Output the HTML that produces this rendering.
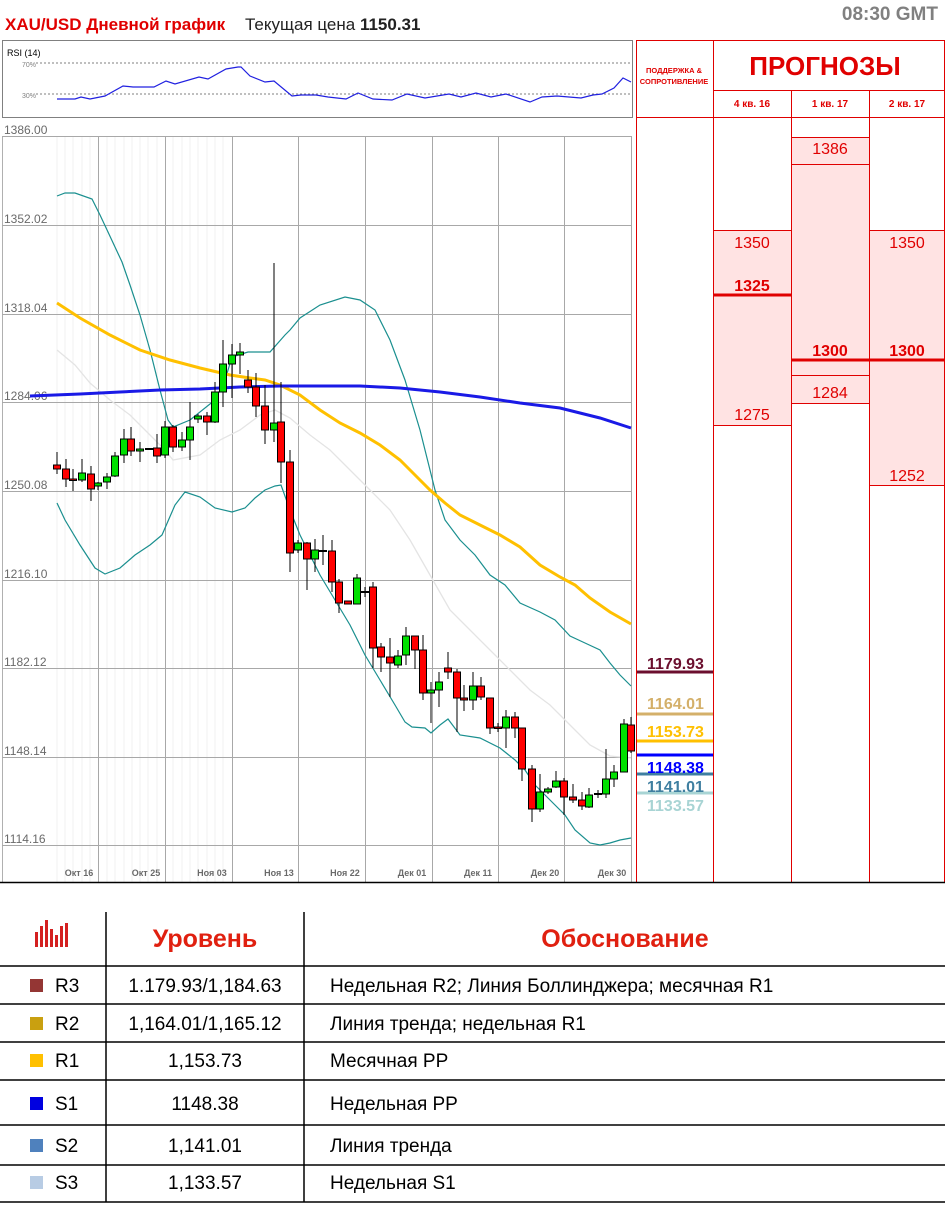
<!DOCTYPE html>
<html><head><meta charset="utf-8">
<style>
body{margin:0;background:#fff;width:945px;height:1204px;overflow:hidden;font-family:"Liberation Sans",sans-serif}
svg text{font-family:"Liberation Sans","DejaVu Sans",sans-serif}
</style></head><body>
<svg width="945" height="1204" viewBox="0 0 945 1204" xmlns="http://www.w3.org/2000/svg">
<!-- header -->
<text x="5" y="30" font-size="17" font-weight="bold" fill="#e00000">XAU/USD Дневной график</text>
<text x="245" y="30" font-size="17" fill="#222">Текущая цена <tspan font-weight="bold">1150.31</tspan></text>
<text x="938" y="20" font-size="19" font-weight="bold" fill="#808080" text-anchor="end">08:30 GMT</text>

<!-- RSI -->
<rect x="2.5" y="40.5" width="630" height="77" fill="#fff" stroke="#808080"/>
<text x="7" y="56" font-size="9" fill="#000">RSI (14)</text>
<text x="22" y="67" font-size="7" fill="#808080">70%</text>
<text x="22" y="98" font-size="7" fill="#808080">30%</text>
<line x1="36" y1="63" x2="632" y2="63" stroke="#555" stroke-dasharray="2,2" stroke-width="0.8"/>
<line x1="36" y1="94" x2="632" y2="94" stroke="#555" stroke-dasharray="2,2" stroke-width="0.8"/>
<polyline fill="none" stroke="#2020e0" stroke-width="1.2" points="57,99 75,99 81,97 90,99 105,96 123,86 133,87 154,87 166,81 175,84 199,77 208,79 226,69 238,67 241,67 250,76 265,82 274,81 292,96 301,95 316,95 328,97 346,99 358,93 373,99 392,100 407,94 425,98 449,94 461,97 476,93 491,97 506,94 530,102 542,97 557,96 581,98 593,95 602,94 614,88 623,78 631,82"/>

<!-- main chart grid -->
<g stroke="#f0f0f0" stroke-width="1">
<line x1="57" y1="136" x2="57" y2="882"/><line x1="65" y1="136" x2="65" y2="882"/><line x1="73" y1="136" x2="73" y2="882"/><line x1="82" y1="136" x2="82" y2="882"/><line x1="90" y1="136" x2="90" y2="882"/>
<line x1="107" y1="136" x2="107" y2="882"/><line x1="115" y1="136" x2="115" y2="882"/><line x1="124" y1="136" x2="124" y2="882"/><line x1="132" y1="136" x2="132" y2="882"/><line x1="140" y1="136" x2="140" y2="882"/><line x1="148" y1="136" x2="148" y2="882"/><line x1="157" y1="136" x2="157" y2="882"/>
<line x1="173" y1="136" x2="173" y2="882"/><line x1="182" y1="136" x2="182" y2="882"/><line x1="190" y1="136" x2="190" y2="882"/><line x1="198" y1="136" x2="198" y2="882"/><line x1="207" y1="136" x2="207" y2="882"/><line x1="215" y1="136" x2="215" y2="882"/><line x1="223" y1="136" x2="223" y2="882"/>
</g>
<line x1="2.5" y1="136" x2="2.5" y2="882" stroke="#b0b0b0"/>
<g stroke="#a8a8a8" stroke-width="1">
<line x1="2" y1="136.5" x2="632" y2="136.5"/><line x1="2" y1="225.5" x2="632" y2="225.5"/><line x1="2" y1="314.5" x2="632" y2="314.5"/><line x1="2" y1="402.5" x2="632" y2="402.5"/><line x1="2" y1="491.5" x2="632" y2="491.5"/><line x1="2" y1="580.5" x2="632" y2="580.5"/><line x1="2" y1="668.5" x2="632" y2="668.5"/><line x1="2" y1="757.5" x2="632" y2="757.5"/><line x1="2" y1="845.5" x2="632" y2="845.5"/>
<line x1="98.5" y1="136" x2="98.5" y2="882"/><line x1="165.5" y1="136" x2="165.5" y2="882"/><line x1="232.5" y1="136" x2="232.5" y2="882"/><line x1="298.5" y1="136" x2="298.5" y2="882"/><line x1="365.5" y1="136" x2="365.5" y2="882"/><line x1="432.5" y1="136" x2="432.5" y2="882"/><line x1="498.5" y1="136" x2="498.5" y2="882"/><line x1="564.5" y1="136" x2="564.5" y2="882"/><line x1="631.5" y1="136" x2="631.5" y2="882"/>
</g>
<g font-size="12" fill="#6a6a6a">
<text x="4" y="134">1386.00</text><text x="4" y="223">1352.02</text><text x="4" y="312">1318.04</text><text x="4" y="400">1284.06</text><text x="4" y="489">1250.08</text><text x="4" y="578">1216.10</text><text x="4" y="666">1182.12</text><text x="4" y="755">1148.14</text><text x="4" y="843">1114.16</text>
</g>
<g font-size="9" font-weight="bold" fill="#6a6a6a" text-anchor="middle">
<text x="79" y="876">Окт 16</text><text x="146" y="876">Окт 25</text><text x="212" y="876">Ноя 03</text><text x="279" y="876">Ноя 13</text><text x="345" y="876">Ноя 22</text><text x="412" y="876">Дек 01</text><text x="478" y="876">Дек 11</text><text x="545" y="876">Дек 20</text><text x="612" y="876">Дек 30</text>
</g>

<!-- indicator lines -->
<polyline fill="none" stroke="#e4e4e4" stroke-width="1.3" points="57,350 75,365 90,383 110,400 130,415 150,435 165,450 173,460 200,455 220,440 240,430 260,415 275,410 290,418 310,435 330,450 350,470 370,490 390,510 410,540 430,575 450,610 470,630 490,650 510,670 530,690 550,705 570,725 590,745 610,756 631,758"/>
<polyline fill="none" stroke="#1a8f8f" stroke-width="1.2" points="57,196 65,193 75,193 92,199 100,215 108,232 122,262 130,285 140,315 150,350 160,390 168,420 173,427 190,420 215,400 225,380 232,357 248,352 270,352 285,335 290,330 300,318 320,305 345,297 360,300 375,310 390,340 405,380 420,430 435,490 445,520 460,540 475,555 490,575 505,585 520,603 540,612 555,620 570,636 585,643 600,650 610,663 620,675 631,686"/>
<polyline fill="none" stroke="#1a8f8f" stroke-width="1.2" points="57,503 65,520 80,545 95,568 105,574 120,568 135,555 150,545 162,535 175,505 185,492 200,497 215,508 232,512 245,508 255,498 265,490 275,486 281,485 290,510 300,535 310,555 320,575 335,600 350,625 365,655 380,680 395,705 405,722 412,727 425,728 431,733 440,725 448,719 460,735 480,738 500,748 515,760 525,770 535,785 550,800 565,815 575,830 590,843 600,845 610,843 620,840 631,838"/>
<polyline fill="none" stroke="#ffc000" stroke-width="3" points="57,303 80,318 110,335 140,350 170,360 200,368 230,375 250,378 265,380 280,385 300,395 320,410 340,423 360,433 380,445 400,460 415,475 430,490 445,503 460,515 480,525 500,535 520,547 540,565 560,577 575,585 590,598 610,612 631,624"/>
<polyline fill="none" stroke="#1a1ae6" stroke-width="3" points="30,396 80,394 120,392 160,390 200,389 240,387 280,386 320,386 360,386 400,388 440,392 480,397 520,403 560,408 600,418 631,428"/>

<!-- candles -->
<g stroke="#000" stroke-width="1">
<line x1="57" y1="452" x2="57" y2="474"/><line x1="66" y1="459" x2="66" y2="487"/><line x1="73" y1="469" x2="73" y2="491"/><line x1="82" y1="459" x2="82" y2="482"/><line x1="91" y1="466" x2="91" y2="501"/><line x1="98" y1="482" x2="98" y2="490"/><line x1="107" y1="473" x2="107" y2="489"/><line x1="115" y1="452" x2="115" y2="477"/><line x1="124" y1="429" x2="124" y2="463"/><line x1="131" y1="427" x2="131" y2="456"/><line x1="140" y1="442" x2="140" y2="462"/><line x1="157" y1="434" x2="157" y2="463"/><line x1="165" y1="421" x2="165" y2="458"/><line x1="173" y1="425" x2="173" y2="452"/><line x1="182" y1="432" x2="182" y2="451"/><line x1="190" y1="402" x2="190" y2="460"/><line x1="198" y1="414" x2="198" y2="423"/><line x1="207" y1="412" x2="207" y2="435"/><line x1="215" y1="382" x2="215" y2="423"/><line x1="223" y1="340" x2="223" y2="407"/><line x1="232" y1="344" x2="232" y2="398"/><line x1="240" y1="343" x2="240" y2="374"/><line x1="248" y1="370" x2="248" y2="393"/><line x1="256" y1="373" x2="256" y2="417"/><line x1="265" y1="385" x2="265" y2="444"/><line x1="274" y1="263" x2="274" y2="442"/><line x1="281" y1="382" x2="281" y2="483"/><line x1="290" y1="450" x2="290" y2="572"/><line x1="298" y1="540" x2="298" y2="553"/><line x1="307" y1="542" x2="307" y2="590"/><line x1="315" y1="539" x2="315" y2="572"/><line x1="323" y1="535" x2="323" y2="565"/><line x1="332" y1="540" x2="332" y2="592"/><line x1="339" y1="579" x2="339" y2="613"/><line x1="357" y1="574" x2="357" y2="604"/><line x1="365" y1="587" x2="365" y2="597"/><line x1="373" y1="582" x2="373" y2="668"/><line x1="381" y1="643" x2="381" y2="672"/><line x1="390" y1="638" x2="390" y2="697"/><line x1="398" y1="650" x2="398" y2="668"/><line x1="406" y1="627" x2="406" y2="665"/><line x1="415" y1="636" x2="415" y2="669"/><line x1="423" y1="635" x2="423" y2="700"/><line x1="431" y1="682" x2="431" y2="723"/><line x1="439" y1="672" x2="439" y2="707"/><line x1="448" y1="652" x2="448" y2="679"/><line x1="457" y1="669" x2="457" y2="732"/><line x1="464" y1="685" x2="464" y2="711"/><line x1="473" y1="672" x2="473" y2="710"/><line x1="481" y1="677" x2="481" y2="700"/><line x1="490" y1="698" x2="490" y2="734"/><line x1="498" y1="723" x2="498" y2="732"/><line x1="506" y1="710" x2="506" y2="748"/><line x1="515" y1="712" x2="515" y2="738"/><line x1="522" y1="728" x2="522" y2="781"/><line x1="532" y1="765" x2="532" y2="822"/><line x1="540" y1="774" x2="540" y2="812"/><line x1="548" y1="787" x2="548" y2="794"/><line x1="556" y1="771" x2="556" y2="788"/><line x1="564" y1="778" x2="564" y2="815"/><line x1="573" y1="784" x2="573" y2="803"/><line x1="582" y1="792" x2="582" y2="810"/><line x1="589" y1="788" x2="589" y2="808"/><line x1="598" y1="790" x2="598" y2="798"/><line x1="606" y1="749" x2="606" y2="798"/><line x1="614" y1="765" x2="614" y2="787"/><line x1="624" y1="719" x2="624" y2="772"/><line x1="631" y1="717" x2="631" y2="753"/>
</g>
<g stroke="#000" stroke-width="1" fill="#ff0000">
<rect x="53.5" y="465" width="7" height="4"/><rect x="62.5" y="469" width="7" height="10"/><rect x="69.5" y="479" width="7" height="1.5"/><rect x="87.5" y="474" width="7" height="15"/><rect x="127.5" y="439" width="7" height="12"/><rect x="153.5" y="448" width="7" height="8"/><rect x="169.5" y="427" width="7" height="20"/><rect x="203.5" y="416" width="7" height="6"/><rect x="244.5" y="380" width="7" height="7"/><rect x="252.5" y="387" width="7" height="19"/><rect x="261.5" y="406" width="7" height="24"/><rect x="277.5" y="422" width="7" height="40"/><rect x="286.5" y="462" width="7" height="91"/><rect x="303.5" y="543" width="7" height="16"/><rect x="328.5" y="551" width="7" height="31"/><rect x="335.5" y="582" width="7" height="21"/><rect x="344.5" y="601" width="7" height="3"/><rect x="369.5" y="587" width="7" height="61"/><rect x="377.5" y="647" width="7" height="10"/><rect x="386.5" y="657" width="7" height="6"/><rect x="411.5" y="636" width="7" height="14"/><rect x="419.5" y="650" width="7" height="43"/><rect x="444.5" y="668" width="7" height="4"/><rect x="453.5" y="672" width="7" height="26"/><rect x="460.5" y="698" width="7" height="2"/><rect x="477.5" y="686" width="7" height="11"/><rect x="486.5" y="698" width="7" height="30"/><rect x="494.5" y="727" width="7" height="1.5"/><rect x="511.5" y="717" width="7" height="11"/><rect x="518.5" y="728" width="7" height="41"/><rect x="528.5" y="769" width="7" height="40"/><rect x="560.5" y="781" width="7" height="16"/><rect x="569.5" y="797" width="7" height="3"/><rect x="578.5" y="800" width="7" height="6"/><rect x="627.5" y="725" width="7" height="26"/>
</g>
<g stroke="#000" stroke-width="1" fill="#00e000">
<rect x="78.5" y="473" width="7" height="7"/><rect x="94.5" y="483" width="7" height="3"/><rect x="103.5" y="477" width="7" height="5"/><rect x="111.5" y="456" width="7" height="20"/><rect x="120.5" y="439" width="7" height="16"/><rect x="136.5" y="449" width="7" height="2"/><rect x="145.5" y="448.5" width="7" height="1"/><rect x="161.5" y="427" width="7" height="28"/><rect x="178.5" y="440" width="7" height="7"/><rect x="186.5" y="427" width="7" height="13"/><rect x="194.5" y="416" width="7" height="3"/><rect x="211.5" y="392" width="7" height="30"/><rect x="219.5" y="364" width="7" height="28"/><rect x="228.5" y="355" width="7" height="9"/><rect x="236.5" y="352" width="7" height="3"/><rect x="270.5" y="423" width="7" height="7"/><rect x="294.5" y="543" width="7" height="7"/><rect x="311.5" y="550" width="7" height="9"/><rect x="319.5" y="550.5" width="7" height="1"/><rect x="353.5" y="578" width="7" height="26"/><rect x="361.5" y="591.5" width="7" height="1"/><rect x="394.5" y="656" width="7" height="9"/><rect x="402.5" y="636" width="7" height="19"/><rect x="427.5" y="690" width="7" height="3"/><rect x="435.5" y="682" width="7" height="8"/><rect x="469.5" y="686" width="7" height="14"/><rect x="502.5" y="717" width="7" height="11"/><rect x="536.5" y="792" width="7" height="17"/><rect x="544.5" y="789" width="7" height="3"/><rect x="552.5" y="781" width="7" height="6"/><rect x="585.5" y="795" width="7" height="12"/><rect x="594.5" y="793.5" width="7" height="1"/><rect x="602.5" y="779" width="7" height="15"/><rect x="610.5" y="772" width="7" height="7"/><rect x="620.5" y="724" width="7" height="48"/>
</g>

<!-- right panel -->
<rect x="713" y="230" width="78" height="195" fill="#ffe3e3"/>
<rect x="791" y="137" width="78" height="266" fill="#ffe3e3"/>
<rect x="869" y="230" width="76" height="255" fill="#ffe3e3"/>
<g stroke="#e00000" stroke-width="1" fill="none">
<line x1="636.5" y1="40" x2="636.5" y2="882"/>
<line x1="713.5" y1="40" x2="713.5" y2="882"/>
<line x1="791.5" y1="90" x2="791.5" y2="882"/>
<line x1="869.5" y1="90" x2="869.5" y2="882"/>
<line x1="944.5" y1="40" x2="944.5" y2="882"/>
<line x1="636" y1="40.5" x2="945" y2="40.5"/>
<line x1="713" y1="90.5" x2="945" y2="90.5"/>
<line x1="636" y1="117.5" x2="945" y2="117.5"/>
<line x1="713" y1="230.5" x2="791" y2="230.5"/><line x1="713" y1="425.5" x2="791" y2="425.5"/>
<line x1="791" y1="137.5" x2="869" y2="137.5"/><line x1="791" y1="164.5" x2="869" y2="164.5"/><line x1="791" y1="375.5" x2="869" y2="375.5"/><line x1="791" y1="403.5" x2="869" y2="403.5"/>
<line x1="869" y1="230.5" x2="945" y2="230.5"/><line x1="869" y1="485.5" x2="945" y2="485.5"/>
</g>
<g stroke="#e00000" stroke-width="3">
<line x1="713" y1="295" x2="791" y2="295"/><line x1="791" y1="360" x2="945" y2="360"/>
</g>
<text x="674" y="73" font-size="7.5" fill="#e00000" text-anchor="middle" font-weight="bold">ПОДДЕРЖКА &amp;</text>
<text x="674" y="84" font-size="7.5" fill="#e00000" text-anchor="middle" font-weight="bold">СОПРОТИВЛЕНИЕ</text>
<text x="825" y="75" font-size="26" fill="#e00000" text-anchor="middle" font-weight="bold">ПРОГНОЗЫ</text>
<g font-size="10" fill="#e00000" text-anchor="middle" font-weight="bold">
<text x="752" y="107">4 кв. 16</text><text x="830" y="107">1 кв. 17</text><text x="907" y="107">2 кв. 17</text>
</g>
<g font-size="16" fill="#e00000" text-anchor="middle">
<text x="752" y="248">1350</text><text x="752" y="420">1275</text>
<text x="830" y="154">1386</text><text x="830" y="398">1284</text>
<text x="907" y="248">1350</text><text x="907" y="481">1252</text>
</g>
<g font-size="16" fill="#e00000" text-anchor="middle" font-weight="bold">
<text x="752" y="291">1325</text><text x="830" y="356">1300</text><text x="907" y="356">1300</text>
</g>
<!-- S/R levels -->
<g stroke-width="3">
<line x1="637" y1="672" x2="713" y2="672" stroke="#6b0f2e"/>
<line x1="637" y1="714" x2="713" y2="714" stroke="#d4b06a"/>
<line x1="637" y1="741" x2="713" y2="741" stroke="#ffc000"/>
<line x1="637" y1="755" x2="713" y2="755" stroke="#0000ff"/>
<line x1="637" y1="774" x2="713" y2="774" stroke="#3f7fa0"/>
<line x1="637" y1="793" x2="713" y2="793" stroke="#a8d4d4"/>
</g>
<g font-size="16" font-weight="bold">
<text x="647" y="669" fill="#6b0f2e">1179.93</text>
<text x="647" y="709" fill="#d4b06a">1164.01</text>
<text x="647" y="737" fill="#ffc000">1153.73</text>
<text x="647" y="773" fill="#0000ff">1148.38</text>
<text x="647" y="792" fill="#3f7fa0">1141.01</text>
<text x="647" y="811" fill="#a8d4d4">1133.57</text>
</g>
<line x1="0" y1="882.5" x2="945" y2="882.5" stroke="#000" stroke-width="1.5"/>

<!-- table -->
<g fill="#d42020">
<rect x="35" y="932" width="3" height="15"/><rect x="40" y="926" width="3" height="21"/><rect x="45" y="920" width="3" height="27"/><rect x="50" y="929" width="3" height="18"/><rect x="55" y="935" width="3" height="12"/><rect x="60" y="926" width="3" height="21"/><rect x="65" y="923" width="3" height="24"/>
</g>
<text x="205" y="947" font-size="25" font-weight="bold" fill="#e02010" text-anchor="middle">Уровень</text>
<text x="625" y="947" font-size="25" font-weight="bold" fill="#e02010" text-anchor="middle">Обоснование</text>
<g stroke="#000" stroke-width="1.5">
<line x1="106" y1="912" x2="106" y2="1202"/><line x1="304" y1="912" x2="304" y2="1202"/>
<line x1="0" y1="966" x2="945" y2="966"/><line x1="0" y1="1004" x2="945" y2="1004"/><line x1="0" y1="1042" x2="945" y2="1042"/><line x1="0" y1="1080" x2="945" y2="1080"/><line x1="0" y1="1125" x2="945" y2="1125"/><line x1="0" y1="1165" x2="945" y2="1165"/><line x1="0" y1="1202" x2="945" y2="1202"/>
</g>
<rect x="30" y="979" width="13" height="13" fill="#943634"/>
<rect x="30" y="1017" width="13" height="13" fill="#c9a010"/>
<rect x="30" y="1054" width="13" height="13" fill="#ffc000"/>
<rect x="30" y="1097" width="13" height="13" fill="#0000e0"/>
<rect x="30" y="1139" width="13" height="13" fill="#4f81bd"/>
<rect x="30" y="1176" width="13" height="13" fill="#b8cce4"/>
<g font-size="19" fill="#000">
<text x="55" y="992">R3</text><text x="55" y="1030">R2</text><text x="55" y="1067">R1</text><text x="55" y="1110">S1</text><text x="55" y="1152">S2</text><text x="55" y="1189">S3</text>
<g text-anchor="middle">
<text x="205" y="992">1.179.93/1,184.63</text><text x="205" y="1030">1,164.01/1,165.12</text><text x="205" y="1067">1,153.73</text><text x="205" y="1110">1148.38</text><text x="205" y="1152">1,141.01</text><text x="205" y="1189">1,133.57</text>
</g>
<text x="330" y="992">Недельная R2; Линия Боллинджера; месячная R1</text>
<text x="330" y="1030">Линия тренда; недельная R1</text>
<text x="330" y="1067">Месячная PP</text>
<text x="330" y="1110">Недельная PP</text>
<text x="330" y="1152">Линия тренда</text>
<text x="330" y="1189">Недельная S1</text>
</g>
</svg>
</body></html>
